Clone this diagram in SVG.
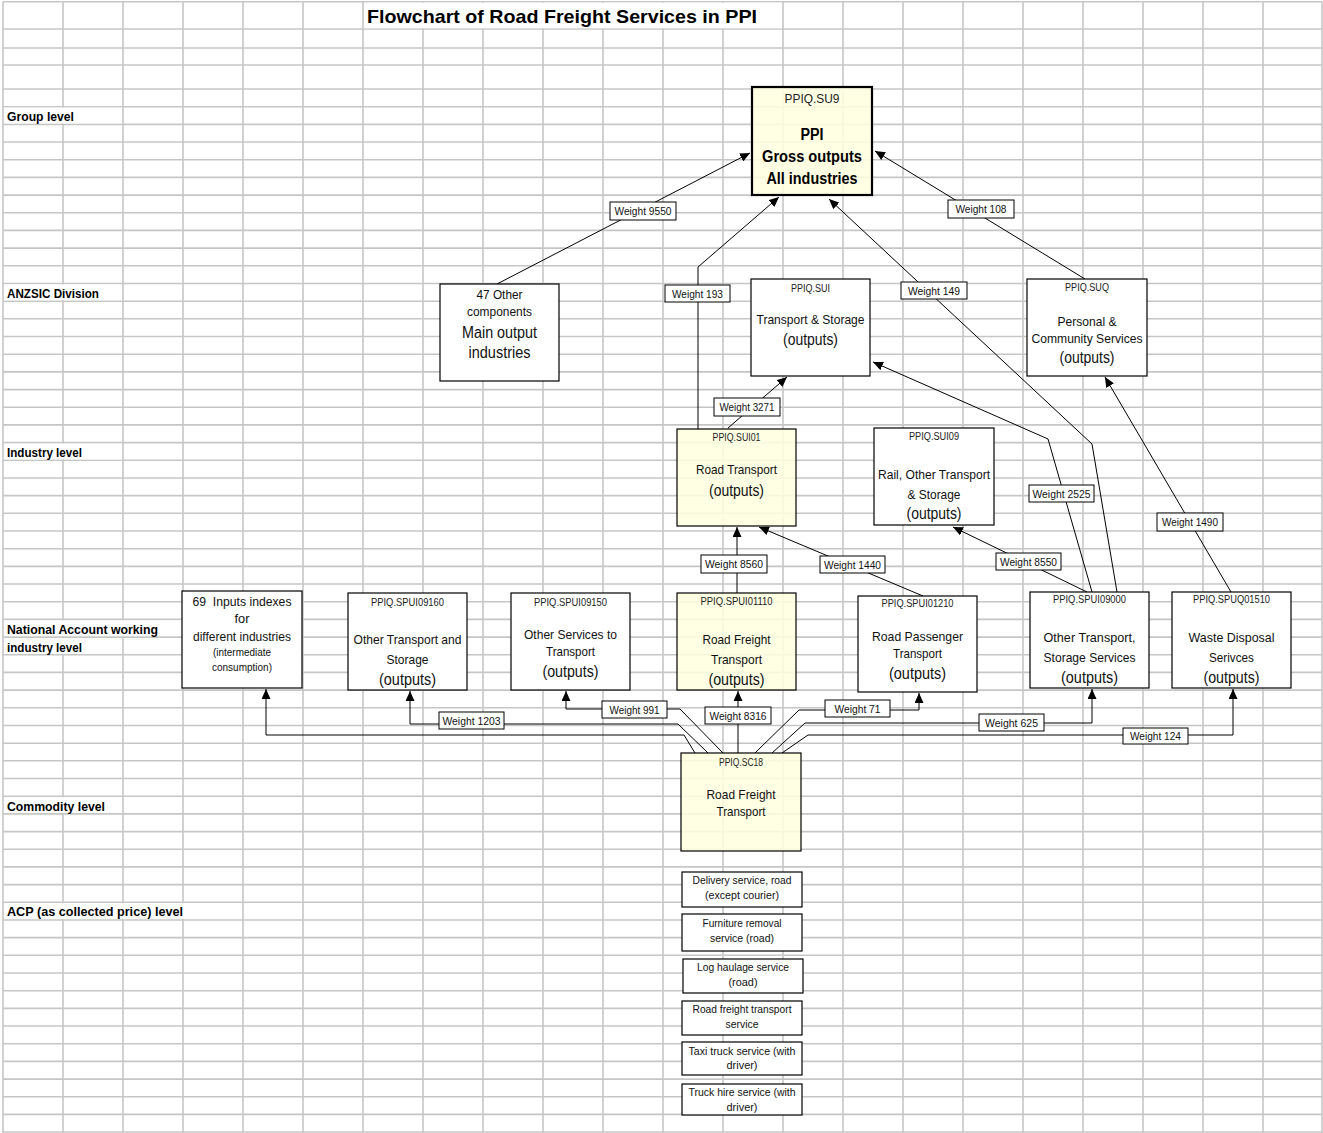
<svg xmlns="http://www.w3.org/2000/svg" width="1323" height="1133" viewBox="0 0 1323 1133">
<defs>
<style>
.grid{stroke:#c6c6c6;stroke-width:1.6;fill:none}
.cover{fill:#fff}
.lbl{font-family:"Liberation Sans",Arial,sans-serif;font-weight:bold;font-size:12.5px;fill:#000}
.title{font-family:"Liberation Sans",Arial,sans-serif;font-weight:bold;font-size:19px;fill:#000}
.node rect{fill:#fff;stroke:#000;stroke-width:1.2}
.node rect.yel{fill:#ffffe0;fill-opacity:.86}
.node rect.thick{stroke-width:2.2}
.t{font-family:"Liberation Sans",Arial,sans-serif;text-anchor:middle;fill:#111}
.id{font-size:10.5px;fill:#222}
.m{font-size:13px}
.o{font-size:16px}
.s{font-size:11px}
.bb{font-weight:bold;font-size:16px;fill:#000}
.conn path{fill:none;stroke:#000;stroke-width:1}
.arr{marker-end:url(#ah)}
.wl rect{fill:#fff;stroke:#000;stroke-width:1}
.wl text{font-family:"Liberation Sans",Arial,sans-serif;font-size:11px;text-anchor:middle;fill:#111}
</style>
<marker id="ah" markerUnits="userSpaceOnUse" markerWidth="11" markerHeight="9" refX="10" refY="4.5" orient="auto" viewBox="0 0 11 9"><path d="M0,0 L10,4.5 L0,9 z" fill="#000"/></marker>
</defs>

<g id="grid">
<path class="grid" d="M3,1.7H1322M3,29H1322M3,48H1322M3,65H1322M3,89H1322M3,106.7H1322M3,124.4H1322M3,142H1322M3,159.7H1322M3,177.4H1322M3,195.1H1322M3,212.8H1322M3,230.4H1322M3,248.1H1322M3,265.8H1322M3,283.5H1322M3,301.2H1322M3,318.8H1322M3,336.5H1322M3,354.2H1322M3,371.9H1322M3,389.6H1322M3,407.2H1322M3,424.9H1322M3,442.6H1322M3,460.3H1322M3,478H1322M3,495.6H1322M3,513.3H1322M3,531H1322M3,548.7H1322M3,566.4H1322M3,584H1322M3,601.7H1322M3,619.4H1322M3,637.1H1322M3,654.8H1322M3,672.4H1322M3,690.1H1322M3,707.8H1322M3,725.5H1322M3,743.2H1322M3,760.8H1322M3,778.5H1322M3,796.2H1322M3,813.9H1322M3,831.6H1322M3,849.2H1322M3,866.9H1322M3,884.6H1322M3,902.3H1322M3,920H1322M3,937.6H1322M3,955.3H1322M3,973H1322M3,990.7H1322M3,1008.4H1322M3,1026H1322M3,1043.7H1322M3,1061.4H1322M3,1079.1H1322M3,1096.8H1322M3,1114.4H1322M3,1132H1322"/>
<path class="grid" d="M3,1.7V1133M63,1.7V1133M123,1.7V1133M183,1.7V1133M243,1.7V1133M303,1.7V1133M363,1.7V1133M423,1.7V1133M483,1.7V1133M543,1.7V1133M603,1.7V1133M663,1.7V1133M723,1.7V1133M783,1.7V1133M843,1.7V1133M903,1.7V1133M963,1.7V1133M1023,1.7V1133M1083,1.7V1133M1143,1.7V1133M1203,1.7V1133M1263,1.7V1133M1322,1.7V1133"/>
</g>

<g id="labels">
<rect class="cover" x="364.5" y="2.7" width="417" height="25.5"/>
<rect class="cover" x="4" y="107.7" width="118" height="15.7"/>
<rect class="cover" x="4" y="284.5" width="118" height="15.7"/>
<rect class="cover" x="4" y="443.6" width="118" height="15.7"/>
<rect class="cover" x="4" y="620.4" width="178" height="15.7"/>
<rect class="cover" x="4" y="638.1" width="118" height="15.7"/>
<rect class="cover" x="4" y="797.2" width="118" height="15.7"/>
<rect class="cover" x="4" y="903.3" width="238" height="15.7"/>
<text class="title" x="367" y="23" textLength="390" lengthAdjust="spacingAndGlyphs">Flowchart of Road Freight Services in PPI</text>
<text class="lbl" x="7" y="121" textLength="67" lengthAdjust="spacingAndGlyphs">Group level</text>
<text class="lbl" x="7" y="298" textLength="92" lengthAdjust="spacingAndGlyphs">ANZSIC Division</text>
<text class="lbl" x="7" y="457" textLength="75" lengthAdjust="spacingAndGlyphs">Industry level</text>
<text class="lbl" x="7" y="634" textLength="151" lengthAdjust="spacingAndGlyphs">National Account working</text>
<text class="lbl" x="7" y="652" textLength="75" lengthAdjust="spacingAndGlyphs">industry level</text>
<text class="lbl" x="7" y="811" textLength="98" lengthAdjust="spacingAndGlyphs">Commodity level</text>
<text class="lbl" x="7" y="916" textLength="176" lengthAdjust="spacingAndGlyphs">ACP (as collected price) level</text>
</g>

<g id="connectors" class="conn">
<path class="arr" d="M497,284 L750,153"/>
<path class="arr" d="M698,429 L698,267 L779,197"/>
<path class="arr" d="M1117,592 L1092,444 L829,199"/>
<path class="arr" d="M1092,592 L1048,439 L873,362"/>
<path class="arr" d="M1085,279 L875,151"/>
<path class="arr" d="M728,428 L787,377"/>
<path class="arr" d="M737,593 L737,527"/>
<path class="arr" d="M923,596 L759,527"/>
<path class="arr" d="M1087,592 L953,527"/>
<path class="arr" d="M1231,592 L1105,377"/>
<path class="arr" d="M695,753 L684,735 L266,735 L266,689"/>
<path class="arr" d="M708,753 L678,724 L410,724 L410,691"/>
<path class="arr" d="M723,753 L680,709 L566,709 L566,691"/>
<path class="arr" d="M738,753 L738,691"/>
<path class="arr" d="M755,753 L799,710 L919,710 L919,693"/>
<path class="arr" d="M772,753 L805,723 L1092,723 L1092,689"/>
<path class="arr" d="M782,753 L808,735 L1233,735 L1233,689"/>
<g class="wl">
<rect x="610" y="202" width="66" height="18"/><text x="643" y="215" textLength="57" lengthAdjust="spacingAndGlyphs">Weight 9550</text>
<rect x="665" y="285" width="65" height="17"/><text x="697.5" y="298" textLength="51" lengthAdjust="spacingAndGlyphs">Weight 193</text>
<rect x="901" y="282" width="66" height="17"/><text x="934" y="295" textLength="52" lengthAdjust="spacingAndGlyphs">Weight 149</text>
<rect x="948" y="200" width="66" height="18"/><text x="981" y="213" textLength="51" lengthAdjust="spacingAndGlyphs">Weight 108</text>
<rect x="714" y="398" width="66" height="18"/><text x="747" y="411" textLength="55" lengthAdjust="spacingAndGlyphs">Weight 3271</text>
<rect x="1029" y="485" width="65" height="17"/><text x="1061.5" y="498" textLength="58" lengthAdjust="spacingAndGlyphs">Weight 2525</text>
<rect x="701" y="555" width="66" height="18"/><text x="734" y="568" textLength="58" lengthAdjust="spacingAndGlyphs">Weight 8560</text>
<rect x="820" y="556" width="65" height="17"/><text x="852.5" y="569" textLength="57" lengthAdjust="spacingAndGlyphs">Weight 1440</text>
<rect x="996" y="553" width="65" height="17"/><text x="1028.5" y="566" textLength="57" lengthAdjust="spacingAndGlyphs">Weight 8550</text>
<rect x="1157" y="513" width="66" height="18"/><text x="1190" y="526" textLength="56" lengthAdjust="spacingAndGlyphs">Weight 1490</text>
<rect x="439" y="712" width="65" height="17"/><text x="471.5" y="725" textLength="58" lengthAdjust="spacingAndGlyphs">Weight 1203</text>
<rect x="602" y="701" width="65" height="17"/><text x="634.5" y="714" textLength="50" lengthAdjust="spacingAndGlyphs">Weight 991</text>
<rect x="705" y="707" width="66" height="17"/><text x="738" y="720" textLength="57" lengthAdjust="spacingAndGlyphs">Weight 8316</text>
<rect x="825" y="700" width="65" height="17"/><text x="857.5" y="713" textLength="46" lengthAdjust="spacingAndGlyphs">Weight 71</text>
<rect x="979" y="714" width="65" height="17"/><text x="1011.5" y="727" textLength="53" lengthAdjust="spacingAndGlyphs">Weight 625</text>
<rect x="1123" y="728" width="65" height="16"/><text x="1155.5" y="740" textLength="51" lengthAdjust="spacingAndGlyphs">Weight 124</text>
</g>
</g>

<g id="su9" class="node">
<rect class="yel thick" x="752" y="87" width="120" height="108"/>
<text class="t id" x="812" y="103" style="font-size:12px" textLength="55" lengthAdjust="spacingAndGlyphs">PPIQ.SU9</text>
<text class="t bb" x="812" y="140" textLength="23" lengthAdjust="spacingAndGlyphs">PPI</text>
<text class="t bb" x="812" y="162" textLength="100" lengthAdjust="spacingAndGlyphs">Gross outputs</text>
<text class="t bb" x="812" y="184" textLength="91" lengthAdjust="spacingAndGlyphs">All industries</text>
</g>

<g id="other47" class="node">
<rect x="440" y="284" width="119" height="97"/>
<text class="t m" x="499.5" y="299" textLength="46" lengthAdjust="spacingAndGlyphs">47 Other</text>
<text class="t" x="499.5" y="316" style="font-size:12px" textLength="65" lengthAdjust="spacingAndGlyphs">components</text>
<text class="t o" x="499.5" y="338" textLength="75" lengthAdjust="spacingAndGlyphs">Main output</text>
<text class="t o" x="499.5" y="358" textLength="62" lengthAdjust="spacingAndGlyphs">industries</text>
</g>

<g id="sui" class="node">
<rect x="751" y="279" width="119" height="97"/>
<text class="t id" x="810.5" y="292" style="font-size:10px" textLength="39" lengthAdjust="spacingAndGlyphs">PPIQ.SUI</text>
<text class="t m" x="810.5" y="324" textLength="108" lengthAdjust="spacingAndGlyphs">Transport &amp; Storage</text>
<text class="t o" x="810.5" y="345" textLength="55" lengthAdjust="spacingAndGlyphs">(outputs)</text>
</g>

<g id="suq" class="node">
<rect x="1027" y="279" width="120" height="97"/>
<text class="t id" x="1087" y="291" style="font-size:10px" textLength="44" lengthAdjust="spacingAndGlyphs">PPIQ.SUQ</text>
<text class="t m" x="1087" y="326" textLength="59" lengthAdjust="spacingAndGlyphs">Personal &amp;</text>
<text class="t m" x="1087" y="343" textLength="111" lengthAdjust="spacingAndGlyphs">Community Services</text>
<text class="t o" x="1087" y="363" textLength="55" lengthAdjust="spacingAndGlyphs">(outputs)</text>
</g>

<g id="sui01" class="node">
<rect class="yel" x="677" y="429" width="119" height="97"/>
<text class="t id" x="736.5" y="441" style="font-size:10px" textLength="48" lengthAdjust="spacingAndGlyphs">PPIQ.SUI01</text>
<text class="t m" x="736.5" y="474" textLength="81" lengthAdjust="spacingAndGlyphs">Road Transport</text>
<text class="t o" x="736.5" y="496" textLength="55" lengthAdjust="spacingAndGlyphs">(outputs)</text>
</g>

<g id="sui09" class="node">
<rect x="874" y="428" width="120" height="97"/>
<text class="t id" x="934" y="440" style="font-size:10px" textLength="50" lengthAdjust="spacingAndGlyphs">PPIQ.SUI09</text>
<text class="t m" x="934" y="479" textLength="112" lengthAdjust="spacingAndGlyphs">Rail, Other Transport</text>
<text class="t m" x="934" y="499" textLength="53" lengthAdjust="spacingAndGlyphs">&amp; Storage</text>
<text class="t o" x="934" y="519" textLength="55" lengthAdjust="spacingAndGlyphs">(outputs)</text>
</g>

<g id="inputs69" class="node">
<rect x="182" y="591" width="120" height="97"/>
<text class="t m" x="242" y="606" xml:space="preserve" textLength="99" lengthAdjust="spacingAndGlyphs">69  Inputs indexes</text>
<text class="t m" x="242" y="623" textLength="15" lengthAdjust="spacingAndGlyphs">for</text>
<text class="t m" x="242" y="641" textLength="98" lengthAdjust="spacingAndGlyphs">different industries</text>
<text class="t" x="242" y="656" style="font-size:10px" textLength="58" lengthAdjust="spacingAndGlyphs">(intermediate</text>
<text class="t" x="242" y="671" style="font-size:10px" textLength="60" lengthAdjust="spacingAndGlyphs">consumption)</text>
</g>

<g id="spui09160" class="node">
<rect x="348" y="593" width="119" height="97"/>
<text class="t id" x="407.5" y="606" textLength="73" lengthAdjust="spacingAndGlyphs">PPIQ.SPUI09160</text>
<text class="t m" x="407.5" y="644" textLength="108" lengthAdjust="spacingAndGlyphs">Other Transport and</text>
<text class="t m" x="407.5" y="664" textLength="42" lengthAdjust="spacingAndGlyphs">Storage</text>
<text class="t o" x="407.5" y="685" textLength="57" lengthAdjust="spacingAndGlyphs">(outputs)</text>
</g>

<g id="spui09150" class="node">
<rect x="511" y="593" width="119" height="97"/>
<text class="t id" x="570.5" y="606" textLength="73" lengthAdjust="spacingAndGlyphs">PPIQ.SPUI09150</text>
<text class="t m" x="570.5" y="639" textLength="93" lengthAdjust="spacingAndGlyphs">Other Services to</text>
<text class="t m" x="570.5" y="656" textLength="49" lengthAdjust="spacingAndGlyphs">Transport</text>
<text class="t o" x="570.5" y="677" textLength="56" lengthAdjust="spacingAndGlyphs">(outputs)</text>
</g>

<g id="spui01110" class="node">
<rect class="yel" x="677" y="593" width="119" height="97"/>
<text class="t id" x="736.5" y="605" textLength="72" lengthAdjust="spacingAndGlyphs">PPIQ.SPUI01110</text>
<text class="t m" x="736.5" y="644" textLength="68" lengthAdjust="spacingAndGlyphs">Road Freight</text>
<text class="t m" x="736.5" y="664" textLength="51" lengthAdjust="spacingAndGlyphs">Transport</text>
<text class="t o" x="736.5" y="685" textLength="56" lengthAdjust="spacingAndGlyphs">(outputs)</text>
</g>

<g id="spui01210" class="node">
<rect x="858" y="596" width="119" height="96"/>
<text class="t id" x="917.5" y="607" textLength="72" lengthAdjust="spacingAndGlyphs">PPIQ.SPUI01210</text>
<text class="t m" x="917.5" y="641" textLength="91" lengthAdjust="spacingAndGlyphs">Road Passenger</text>
<text class="t m" x="917.5" y="658" textLength="49" lengthAdjust="spacingAndGlyphs">Transport</text>
<text class="t o" x="917.5" y="679" textLength="57" lengthAdjust="spacingAndGlyphs">(outputs)</text>
</g>

<g id="spui09000" class="node">
<rect x="1030" y="592" width="119" height="96"/>
<text class="t id" x="1089.5" y="603" textLength="73" lengthAdjust="spacingAndGlyphs">PPIQ.SPUI09000</text>
<text class="t m" x="1089.5" y="642" textLength="92" lengthAdjust="spacingAndGlyphs">Other Transport,</text>
<text class="t m" x="1089.5" y="662" textLength="92" lengthAdjust="spacingAndGlyphs">Storage Services</text>
<text class="t o" x="1089.5" y="683" textLength="57" lengthAdjust="spacingAndGlyphs">(outputs)</text>
</g>

<g id="spuq01510" class="node">
<rect x="1172" y="592" width="119" height="96"/>
<text class="t id" x="1231.5" y="603" textLength="77" lengthAdjust="spacingAndGlyphs">PPIQ.SPUQ01510</text>
<text class="t m" x="1231.5" y="642" textLength="86" lengthAdjust="spacingAndGlyphs">Waste Disposal</text>
<text class="t m" x="1231.5" y="662" textLength="45" lengthAdjust="spacingAndGlyphs">Serivces</text>
<text class="t o" x="1231.5" y="683" textLength="56" lengthAdjust="spacingAndGlyphs">(outputs)</text>
</g>

<g id="sc18" class="node">
<rect class="yel" x="681" y="753" width="120" height="98"/>
<text class="t id" x="741" y="766" textLength="44" lengthAdjust="spacingAndGlyphs">PPIQ.SC18</text>
<text class="t m" x="741" y="799" textLength="69" lengthAdjust="spacingAndGlyphs">Road Freight</text>
<text class="t m" x="741" y="816" textLength="49" lengthAdjust="spacingAndGlyphs">Transport</text>
</g>

<g id="acp1" class="node">
<rect x="682" y="872" width="120" height="35"/>
<text class="t s" x="742" y="884" textLength="99" lengthAdjust="spacingAndGlyphs">Delivery service, road</text>
<text class="t s" x="742" y="899" textLength="74" lengthAdjust="spacingAndGlyphs">(except courier)</text>
</g>
<g id="acp2" class="node">
<rect x="682" y="914" width="120" height="37"/>
<text class="t s" x="742" y="927" textLength="79" lengthAdjust="spacingAndGlyphs">Furniture removal</text>
<text class="t s" x="742" y="942" textLength="64" lengthAdjust="spacingAndGlyphs">service (road)</text>
</g>
<g id="acp3" class="node">
<rect x="683" y="959" width="120" height="34"/>
<text class="t s" x="743" y="971" textLength="92" lengthAdjust="spacingAndGlyphs">Log haulage service</text>
<text class="t s" x="743" y="986" textLength="29" lengthAdjust="spacingAndGlyphs">(road)</text>
</g>
<g id="acp4" class="node">
<rect x="682" y="1001" width="120" height="34"/>
<text class="t s" x="742" y="1013" textLength="99" lengthAdjust="spacingAndGlyphs">Road freight transport</text>
<text class="t s" x="742" y="1028" textLength="33" lengthAdjust="spacingAndGlyphs">service</text>
</g>
<g id="acp5" class="node">
<rect x="682" y="1042" width="120" height="33"/>
<text class="t s" x="742" y="1055" textLength="107" lengthAdjust="spacingAndGlyphs">Taxi truck service (with</text>
<text class="t s" x="742" y="1069" textLength="31" lengthAdjust="spacingAndGlyphs">driver)</text>
</g>
<g id="acp6" class="node">
<rect x="682" y="1084" width="120" height="31"/>
<text class="t s" x="742" y="1096" textLength="107" lengthAdjust="spacingAndGlyphs">Truck hire service (with</text>
<text class="t s" x="742" y="1111" textLength="31" lengthAdjust="spacingAndGlyphs">driver)</text>
</g>
</svg>
